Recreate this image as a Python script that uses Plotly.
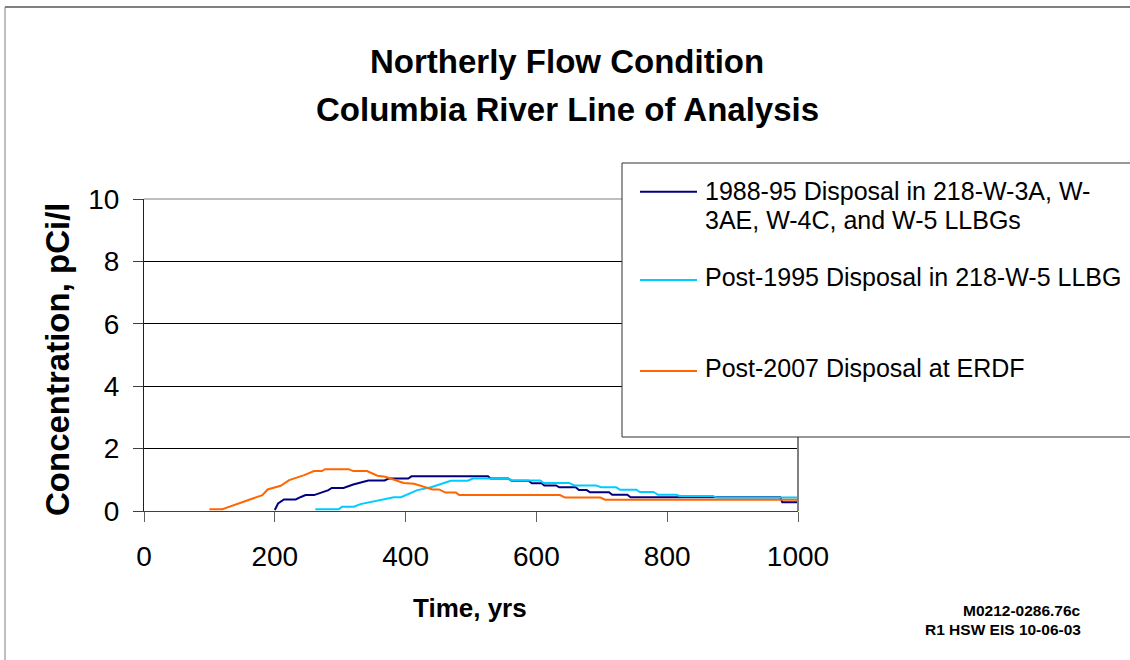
import plotly.graph_objects as go

# ---------------- data ----------------
years_1988 = [200, 205, 214, 232, 240, 247, 260, 272, 282, 287, 305, 320, 343, 368, 374, 404, 409,
              526, 530, 557, 562, 588, 593, 608, 612, 630, 635, 660, 665, 677, 682, 711, 716, 739,
              744, 973, 976, 1000]
conc_1988 = [0.03, 0.24, 0.37, 0.37, 0.45, 0.51, 0.51, 0.61, 0.67, 0.74, 0.74, 0.85, 0.98, 0.98, 1.04,
             1.04, 1.11, 1.11, 1.04, 1.04, 0.97, 0.97, 0.89, 0.89, 0.82, 0.82, 0.76, 0.76, 0.67, 0.67,
             0.60, 0.60, 0.52, 0.52, 0.44, 0.44, 0.28, 0.28]

years_1995 = [262, 298, 303, 321, 331, 346, 367, 382, 393, 403, 418, 439, 449, 462, 469, 495, 503,
              557, 562, 606, 611, 650, 658, 691, 699, 722, 728, 753, 758, 779, 786, 814, 819, 870,
              876, 1000]
conc_1995 = [0.06, 0.06, 0.14, 0.14, 0.22, 0.29, 0.37, 0.44, 0.44, 0.54, 0.67, 0.76, 0.83, 0.90, 0.97,
             0.97, 1.04, 1.04, 0.98, 0.98, 0.90, 0.90, 0.82, 0.82, 0.76, 0.76, 0.68, 0.68, 0.61, 0.61,
             0.52, 0.52, 0.48, 0.48, 0.43, 0.43]

years_2007 = [100, 120, 181, 189, 209, 222, 245, 260, 272, 277, 313, 320, 341, 357, 369, 397, 413,
              428, 441, 451, 461, 477, 482, 636, 644, 698, 705, 1000]
conc_2007 = [0.06, 0.06, 0.51, 0.69, 0.81, 0.99, 1.15, 1.28, 1.28, 1.34, 1.34, 1.28, 1.28, 1.13, 1.10,
             0.90, 0.87, 0.76, 0.69, 0.69, 0.59, 0.59, 0.51, 0.51, 0.43, 0.43, 0.36, 0.36]

series_names = ["1988-95 Disposal in 218-W-3A, W-<br>3AE, W-4C, and W-5 LLBGs",
                "Post-1995 Disposal in 218-W-5 LLBG",
                "Post-2007 Disposal at ERDF"]
series_colors = ["#000080", "#00CCFF", "#FF6600"]

x_ticks = [0, 200, 400, 600, 800, 1000]
y_ticks = [0, 2, 4, 6, 8, 10]

title_lines = ["Northerly Flow Condition", "Columbia River Line of Analysis"]
x_title = "Time, yrs"
y_title = "Concentration, pCi/l"
footnote = ["M0212-0286.76c", "R1 HSW EIS 10-06-03"]

# ---------------- layout geometry (pixels) ----------------
W, H = 1130, 660
L, R, T, B = 144, 798, 199, 511
FONT = "Liberation Sans, Arial, sans-serif"


def px(x):
    return (x - L) / (R - L)


def py(y):
    return (B - y) / (B - T)


fig = go.Figure()
for xs, ys, nm, col in zip([years_1988, years_1995, years_2007],
                           [conc_1988, conc_1995, conc_2007],
                           series_names, series_colors):
    fig.add_trace(go.Scatter(x=xs, y=ys, mode="lines", name=nm.replace("<br>", " "),
                             line=dict(color=col, width=2), showlegend=False))

annotations = []
shapes = []

# titles
for txt, yc in zip(title_lines, [61, 109.5]):
    annotations.append(dict(text="<b>%s</b>" % txt, xref="paper", yref="paper",
                            x=px(567), y=py(yc), xanchor="center", yanchor="middle",
                            showarrow=False, font=dict(family=FONT, size=33, color="black")))
annotations.append(dict(text="<b>%s</b>" % x_title, xref="paper", yref="paper",
                        x=px(470), y=py(608), xanchor="center", yanchor="middle",
                        showarrow=False, font=dict(family=FONT, size=26, color="black")))
annotations.append(dict(text="<b>%s</b>" % y_title, xref="paper", yref="paper",
                        x=px(57), y=py(359), xanchor="center", yanchor="middle", textangle=-90,
                        showarrow=False, font=dict(family=FONT, size=33, color="black")))
for txt, yc in zip(footnote, [610.5, 629]):
    annotations.append(dict(text="<b>%s</b>" % txt, xref="paper", yref="paper",
                            x=px(1083), y=py(yc), xanchor="right", yanchor="middle",
                            showarrow=False, font=dict(family=FONT, size=15.5, color="black")))

# outer chart border (top black, left gray)
shapes.append(dict(type="line", xref="paper", yref="paper", x0=px(5), x1=px(1140),
                   y0=py(7), y1=py(7), line=dict(color="black", width=1)))
shapes.append(dict(type="line", xref="paper", yref="paper", x0=px(5), x1=px(5),
                   y0=py(7), y1=py(680), line=dict(color="#808080", width=1)))

# plot area top / right border (gray)
shapes.append(dict(type="line", xref="paper", yref="paper", x0=0, x1=1, y0=1, y1=1,
                   line=dict(color="#808080", width=1), layer="above"))
shapes.append(dict(type="line", xref="paper", yref="paper", x0=1, x1=1, y0=0, y1=1,
                   line=dict(color="#808080", width=2), layer="above"))

# legend box
shapes.append(dict(type="rect", xref="paper", yref="paper", x0=px(622), x1=px(1145),
                   y0=py(437), y1=py(163), line=dict(color="#303030", width=1),
                   fillcolor="white", layer="above"))
leg_line_y = [191.7, 280, 371]
leg_text = [(series_names[0].split("<br>")[0], 190.5), (series_names[0].split("<br>")[1], 220),
            (series_names[1], 277), (series_names[2], 368)]
for yl, col in zip(leg_line_y, series_colors):
    shapes.append(dict(type="line", xref="paper", yref="paper", x0=px(640), x1=px(697),
                       y0=py(yl), y1=py(yl), line=dict(color=col, width=2), layer="above"))
for txt, yc in leg_text:
    annotations.append(dict(text=txt, xref="paper", yref="paper", x=px(703), y=py(yc),
                            xanchor="left", yanchor="middle", showarrow=False,
                            font=dict(family=FONT, size=25, color="black")))

fig.update_layout(
    width=W, height=H,
    margin=dict(l=L, r=W - R, t=T, b=H - B, pad=0),
    paper_bgcolor="white", plot_bgcolor="white",
    showlegend=False,
    annotations=annotations, shapes=shapes,
    xaxis=dict(range=[0, 1000], tickvals=x_ticks, ticktext=[str(v) for v in x_ticks],
               showgrid=False, zeroline=False, showline=True, linecolor="#404040", linewidth=1,
               ticks="outside", ticklen=10, tickcolor="#606060", tickwidth=1,
               tickfont=dict(family=FONT, size=28, color="black"), ticklabelstandoff=10),
    yaxis=dict(range=[0, 10], tickvals=y_ticks, ticktext=[str(v) for v in y_ticks],
               showgrid=True, gridcolor="black", gridwidth=1, zeroline=False,
               showline=True, linecolor="#202020", linewidth=1,
               ticks="outside", ticklen=10, tickcolor="#404040", tickwidth=1,
               tickfont=dict(family=FONT, size=28, color="black"), ticklabelstandoff=8),
)

fig.write_html("out.html")
